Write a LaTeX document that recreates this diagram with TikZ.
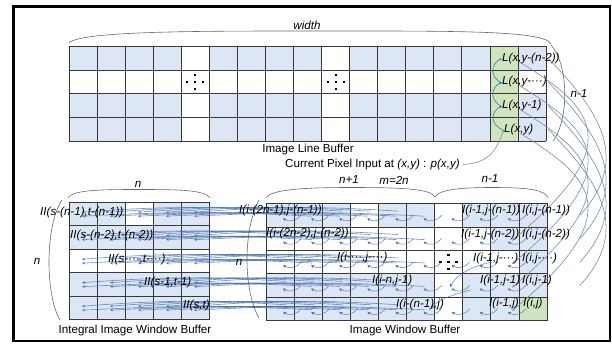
\documentclass[tikz,border=0pt]{standalone}
\usepackage{fontspec}
\setmainfont{Liberation Sans}
\usetikzlibrary{arrows.meta}
\definecolor{cellblue}{RGB}{221,230,244}
\definecolor{cellgreen}{RGB}{208,228,192}
\definecolor{gridline}{RGB}{55,55,55}
\definecolor{flowblue}{RGB}{65,105,172}
\definecolor{arcgrey}{RGB}{120,140,172}
\definecolor{bracegrey}{RGB}{105,105,105}
\definecolor{tealtip}{RGB}{55,125,165}
\begin{document}
\begin{tikzpicture}[x=1pt,y=-1pt,
  lab/.style={font=\fontsize{11.6}{13}\selectfont\itshape, inner sep=0pt, anchor=west},
  body/.style={font=\fontsize{11.6}{13}\selectfont, inner sep=0pt},
  gridc/.style={draw=gridline, line width=0.7pt},
  bracec/.style={draw=bracegrey, line width=0.6pt},
  flowc/.style={draw=flowblue, opacity=0.75, line width=0.6pt, -{Stealth[length=3pt,width=2.8pt]}},
  shiftc/.style={draw=flowblue, opacity=0.85, line width=0.5pt, -{Stealth[length=3.4pt,width=3.2pt]}},
  bigarc/.style={draw=arcgrey, line width=0.6pt},
  tealarr/.style={draw=tealtip, line width=0.6pt, -{Stealth[length=3pt,width=2.6pt]}},
  dotc/.style={fill=black}
]
\useasboundingbox (0,0) rectangle (612,344);
\fill[white] (0,0) rectangle (612,344);
\draw[black, line width=2.6pt] (13.5,6.5) rectangle (610,341);

% ---------- top grid: Image Line Buffer
\fill[cellblue] (69,46.5) rectangle (546,141);
\fill[white] (69,70.125) rectangle (489.9,93.75);
\fill[white] (517.96,70.125) rectangle (546,93.75);
\fill[white] (181.24,46.5) rectangle (209.3,141);
\fill[white] (321.54,46.5) rectangle (349.6,141);
\fill[cellgreen] (489.9,46.5) rectangle (517.96,141);
\foreach \i in {0,...,17} \draw[gridc] ({69+\i*28.06},46.5) -- ({69+\i*28.06},141);
\foreach \j in {0,...,4} \draw[gridc] (69,{46.5+\j*23.625}) -- (546,{46.5+\j*23.625});
\foreach \cx in {195.3,335.6}{
  \foreach \dx/\dy in {0/-7,-8/0,0/0,8/0,0/7}
    \fill[dotc] ({\cx+\dx-1.1},{82+\dy-1.1}) rectangle ({\cx+\dx+1.1},{82+\dy+1.1});
}
\node[lab, anchor=center] (width) at (307,25) {width};
\draw[bracec] (69,43) .. controls (80,31) and (200,31) .. (307,31) .. controls (450,31) and (545,30) .. (551,44);
\draw[bracec] (551,45) .. controls (569,65) and (569,120) .. (553,141);
\node[lab, anchor=center] (nm1top) at (579,94) {n-1};

\node[lab] (l1) at (502,58.5) {L(x,y-(n-2))};
\node[lab] (l2) at (502,82) {L(x,y-···)};
\node[lab] (l3) at (502,105.8) {L(x,y-1)};
\node[lab] (l4) at (504,129.5) {L(x,y)};
\draw[tealarr] ([yshift=-1pt]l2.west) .. controls (490,78) and (490,64) .. (l1.west);
\draw[tealarr] ([yshift=-1pt]l3.west) .. controls (490,101) and (490,88) .. (l2.west);
\draw[tealarr] ([yshift=-1pt]l4.west) .. controls (490,125) and (490,112) .. (l3.west);

\node[body] (ilb) at (308,150) {Image Line Buffer};
\node[body, anchor=west] (cur) at (285,164.5) {Current Pixel Input at \textit{(x,y)} : \textit{p(x,y)}};
\draw[tealarr, draw=arcgrey] ([xshift=3pt]cur.east) .. controls (490,163) and (496,150) .. (l4.west);

% ---------- lower left grid: Integral Image Window Buffer
\fill[cellblue] (69,202) rectangle (209,319.5);
\fill[white] (69,249) rectangle (209,272.5);
\fill[white] (125,202) rectangle (153,225.5);
\foreach \i in {0,...,5} \draw[gridc] ({69+\i*28},202) -- ({69+\i*28},319.5);
\foreach \j in {0,...,5} \draw[gridc] (69,{202+\j*23.5}) -- (209,{202+\j*23.5});

% ---------- lower right grid: Image Window Buffer
\fill[cellblue] (266,203.5) rectangle (547,320.5);
\fill[white] (266,226.9) rectangle (490.9,250.3);
\fill[white] (266,250.3) rectangle (519,273.7);
\fill[white] (350.3,203.5) rectangle (378.4,226.9);
\fill[white] (434.6,203.5) rectangle (462.7,320.5);
\fill[cellgreen] (519,297.1) rectangle (547,320.5);
\foreach \i in {0,...,10} \draw[gridc] ({266+\i*28.1},203.5) -- ({266+\i*28.1},320.5);
\foreach \j in {0,...,5} \draw[gridc] (266,{203.5+\j*23.4}) -- (547,{203.5+\j*23.4});
\foreach \dx/\dy in {0/-7,-8/0,0/0,8/0,0/7}
  \fill[dotc] ({448.6+\dx-1.6},{262+\dy-1.1}) rectangle ({448.6+\dx+1.6},{262+\dy+1.1});

% shift arcs inside image window buffer
\foreach \r in {1,...,5}{
  \foreach \c in {1,...,9}{
    \draw[shiftc] ({266+\c*28.1+7},{203.5+(\r-0.5)*23.4}) to[bend left=45] ({266+(\c-1)*28.1+17},{203.5+(\r-0.5)*23.4+3});
  }
}
% long lines from image window buffer into integral buffer
\foreach \r in {1,...,5}{
  \foreach \c in {1,...,5}{
    \draw[flowc] ({266+(\c-0.5)*28.1+6},{203.5+(\r-0.5)*23.4-4}) to[bend right=4] ({69+(\c-1)*28+13},{202+(\r-0.5)*23.5-1.5});
    \draw[flowc] ({266+(\c+0.5)*28.1+4},{203.5+(\r-0.5)*23.4+1}) to[bend right=3] ({69+(\c-1)*28+13},{202+(\r-0.5)*23.5+2.5});
  }
}
% diagonal transfers
\draw[shiftc] (492,262) .. controls (472,266) and (456,275) .. (450,287);
\draw[shiftc] (470,290) .. controls (452,295) and (437,300) .. (431,309);

% big arcs on the right
\foreach \r in {1,...,4}{
  \draw[bigarc] (548,{46.5+(\r-0.5)*23.625}) .. controls (602,{46.5+(\r-0.5)*23.625+55}) and (630,{203.5+(\r-0.5)*23.4-55}) .. (580,{203.5+(\r-0.5)*23.4});
  \draw[bigarc, -{Stealth[length=3pt,width=2.6pt]}] (520,{46.5+(\r-0.5)*23.625+4}) .. controls (595,{46.5+(\r-0.5)*23.625+50}) and (628,{203.5+(\r+0.5)*23.4-95}) .. (512,{203.5+(\r+0.5)*23.4+2});
}

% braces lower
\node[lab, anchor=center] (ntop) at (138,184) {n};
\draw[bracec] (68,198) .. controls (72,190) and (100,189.5) .. (138,189.5) .. controls (180,189.5) and (205,190) .. (210,198);
\draw[bracec] (62,200) .. controls (45,225) and (45,295) .. (60,320);
\node[lab, anchor=center] (nleft) at (37,261) {n};

\node[lab, anchor=center] (np1) at (349,180) {n+1};
\node[lab, anchor=center] (m2n) at (394,180) {m=2n};
\node[lab, anchor=center] (nm1) at (490,179) {n-1};
\draw[bracec] (266,198) .. controls (270,190) and (300,187.5) .. (350,187.5) .. controls (405,187.5) and (431,189) .. (435,197);
\draw[bracec] (435,197) .. controls (439,189) and (465,187.5) .. (492,187.5) .. controls (530,187.5) and (545,190) .. (548,198);
\draw[bracec] (259,200) .. controls (243,230) and (243,290) .. (259,318);
\node[lab, anchor=center] (nleft2) at (239,262) {n};

% labels lower left
\node[lab] (ii1) at (40,212) {II(s-(n-1),t-(n-1))};
\node[lab] (ii2) at (70,235) {II(s-(n-2),t-(n-2))};
\node[lab] (ii3) at (108,259) {II(s-···,t-···)};
\node[lab] (ii4) at (144,282) {II(s-1,t-1)};
\node[lab] (ii5) at (183,305) {II(s,t)};
\node[body] (iiwb) at (135,330) {Integral Image Window Buffer};

% labels lower right
\node[lab] (a1) at (239,211) {I(i-(2n-1),j-(n-1))};
\node[lab] (b1) at (462,211) {I(i-1,j-(n-1))};
\node[lab] (c1) at (522,211) {I(i,j-(n-1))};
\node[lab] (a2) at (266,234) {I(i-(2n-2),j-(n-2))};
\node[lab] (b2) at (461,234.5) {I(i-1,j-(n-2))};
\node[lab] (c2) at (522,234.5) {I(i,j-(n-2))};
\node[lab] (a3) at (337,258) {I(i-···,j-···)};
\node[lab] (b3) at (473,259) {I(i-1,j-···)};
\node[lab] (c3) at (522,259) {I(i,j-···)};
\node[lab] (a4) at (372,280.5) {I(i-n,j-1)};
\node[lab] (b4) at (480,281) {I(i-1,j-1)};
\node[lab] (c4) at (522,281) {I(i,j-1)};
\node[lab] (a5) at (396,305) {I(i-(n-1),j)};
\node[lab] (b5) at (489,304) {I(i-1,j)};
\node[lab] (c5) at (523,304) {I(i,j)};
\node[body] (iwb) at (405,330) {Image Window Buffer};
\end{tikzpicture}
\end{document}
